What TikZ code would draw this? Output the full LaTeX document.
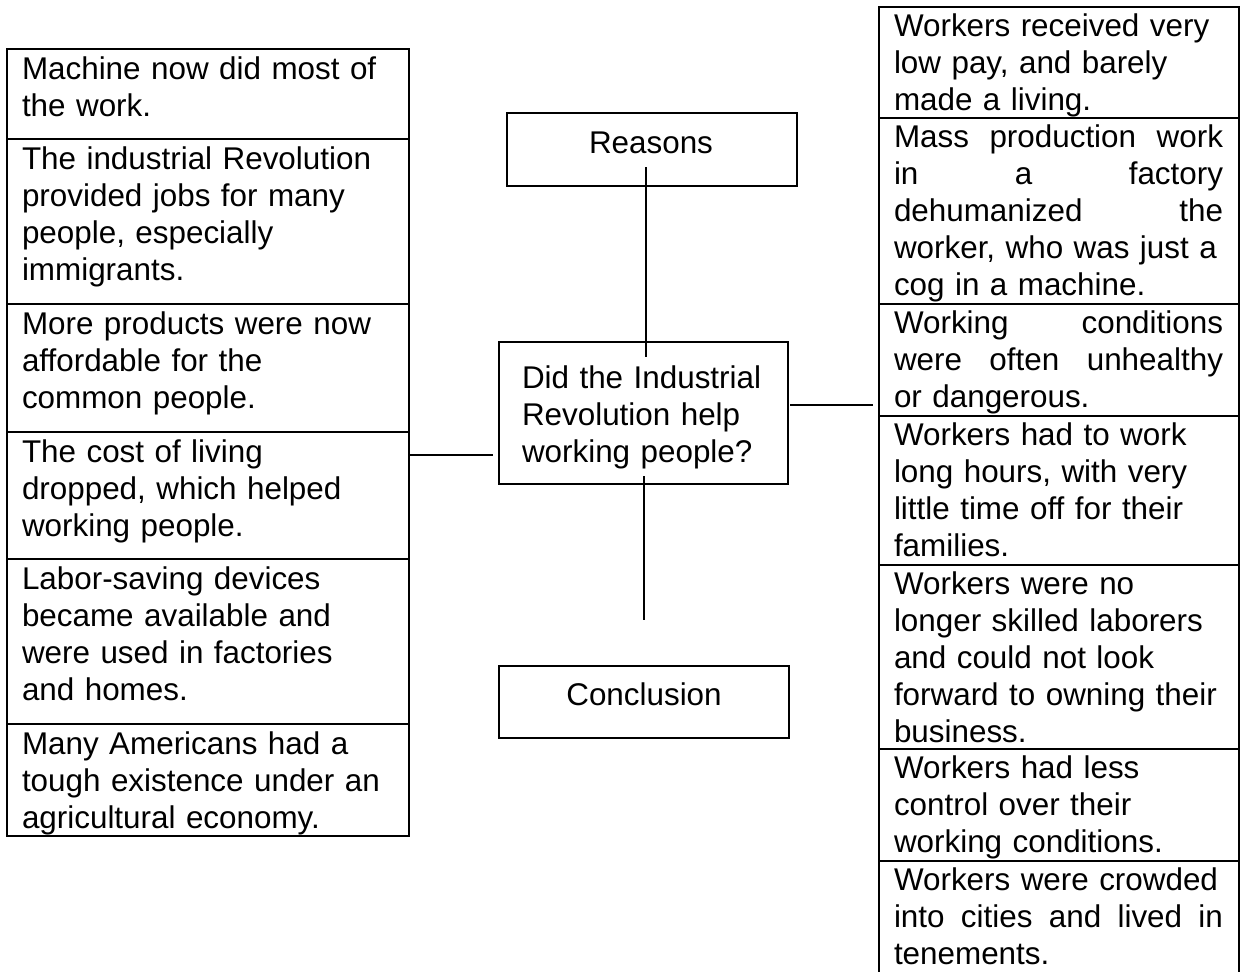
\documentclass[tikz,border=0pt]{standalone}
\usepackage{fontspec}
\setmainfont{Liberation Sans}
\usetikzlibrary{calc}
\tikzset{
  boxst/.style={draw, line width=2pt, inner sep=0pt, outer sep=0pt, anchor=north west},
  txtst/.style={inner sep=0pt, outer sep=0pt, anchor=north west, align=left,
    font=\fontsize{31.4pt}{37pt}\selectfont},
  lblst/.style={inner sep=0pt, anchor=base, font=\fontsize{31.4pt}{37pt}\selectfont},
  conn/.style={line width=2pt}
}
\newcommand\leftbox[4]{%
  \node[boxst, minimum width=402pt, minimum height={(#3-#2)*1pt}] (#1) at (7,#2) {};
  \node[txtst, text width=380pt] (#1t) at ($(#1.north west)+(15,0)$) {\rule{0pt}{30pt}#4};
}
\newcommand\rightbox[4]{%
  \node[boxst, minimum width=360pt, minimum height={(#3-#2)*1pt}] (#1) at (879,#2) {};
  \node[txtst, text width=335pt] (#1t) at ($(#1.north west)+(15,0)$) {\rule{0pt}{29pt}#4};
}
\newcommand\jline[1]{\leavevmode\hbox to 329pt{#1}}
\begin{document}
\begin{tikzpicture}[x=1pt,y=-1pt]
\useasboundingbox (0,0) rectangle (1240,972);

% left column
\leftbox{L1}{49}{139}{Machine now did most of\\the work.}
\leftbox{L2}{139}{304}{The industrial Revolution\\provided jobs for many\\people, especially\\immigrants.}
\leftbox{L3}{304}{432}{More products were now\\affordable for the\\common people.}
\leftbox{L4}{432}{559}{The cost of living\\dropped, which helped\\working people.}
\leftbox{L5}{559}{724}{Labor-saving devices\\became available and\\were used in factories\\and homes.}
\leftbox{L6}{724}{836}{Many Americans had a\\tough existence under an\\agricultural economy.}

% right column
\rightbox{R1}{7}{118}{Workers received very\\low pay, and barely\\made a living.}
\rightbox{R2}{118}{304}{\jline{Mass\hfill production\hfill work}\\\jline{in\hfill a\hfill factory}\\\jline{dehumanized\hfill the}\\worker, who was just a\\cog in a machine.}
\rightbox{R3}{304}{416}{\jline{Working\hfill conditions}\\\jline{were\hfill often\hfill unhealthy}\\or dangerous.}
\rightbox{R4}{416}{565}{Workers had to work\\long hours, with very\\little time off for their\\families.}
\rightbox{R5}{565}{749}{Workers were no\\longer skilled laborers\\and could not look\\forward to owning their\\business.}
\rightbox{R6}{749}{861}{Workers had less\\control over their\\working conditions.}
\rightbox{R7}{861}{985}{Workers were crowded\\\jline{into\hfill cities\hfill and\hfill lived\hfill in}\\tenements.}

% center
\node[boxst, minimum width=290pt, minimum height=73pt] (reasons) at (507,113) {};
\node[lblst] (reasonst) at (651,153) {Reasons};
\node[boxst, minimum width=289pt, minimum height=142pt] (question) at (499,342) {};
\node[txtst, text width=270pt] (questiont) at (522,342) {\rule{0pt}{46pt}Did the Industrial\\Revolution help\\working people?};
\node[boxst, minimum width=290pt, minimum height=72pt] (conclusion) at (499,666) {};
\node[lblst] (conclusiont) at (644,705) {Conclusion};

% connectors
\coordinate (rA) at (646,167);
\coordinate (rB) at (646,357);
\coordinate (cA) at (644,476);
\coordinate (cB) at (644,620);
\coordinate (lA) at (409,455);
\coordinate (lB) at (493,455);
\coordinate (xA) at (790,405);
\coordinate (xB) at (873,405);
\draw[conn] (rA) -- (rB);
\draw[conn] (cA) -- (cB);
\draw[conn] (lA) -- (lB);
\draw[conn] (xA) -- (xB);
\end{tikzpicture}
\end{document}
